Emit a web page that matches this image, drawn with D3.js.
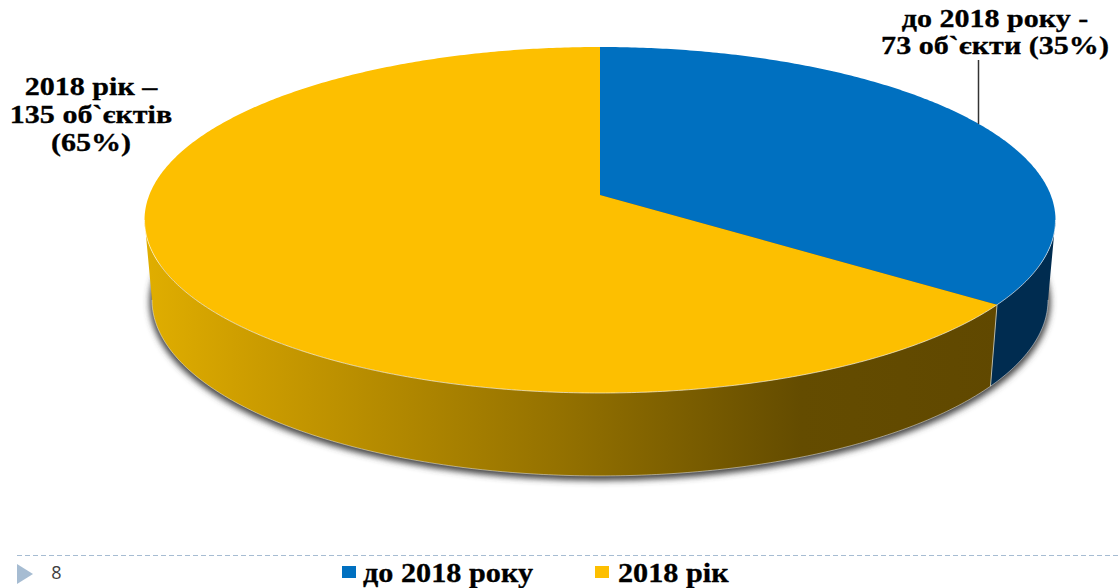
<!DOCTYPE html>
<html>
<head>
<meta charset="utf-8">
<script src="https://cdn.jsdelivr.net/npm/d3@7"></script>
<style>
  html, body { margin: 0; padding: 0; background: #fff; overflow: hidden; }
  .lbl { font-family: "Liberation Serif", serif; font-weight: bold; fill: #000; stroke: #000; stroke-width: 0.3px; }
</style>
</head>
<body>
<div id="chart"></div>
<script>
var categories = ["до 2018 року", "2018 рік"];
var objectCounts = [73, 135];
var sliceLabels = [
  ["до 2018 року -", "73 об`єкти (35%)"],
  ["2018 рік –", "135 об`єктів", "(65%)"]
];
var pageNumber = "8";

var chartWidth = 1118, chartHeight = 588;

var topColors = ["#0070c0", "#fdbf00"];
var wallBlue = "#002c50";

var svg = d3.select("#chart").append("svg")
    .attr("width", chartWidth)
    .attr("height", chartHeight);

var defs = svg.append("defs");

//wall of the yellow slice goes dark towards the lower right
var grad = defs.append("linearGradient")
    .attr("id", "wallGrad")
    .attr("gradientUnits", "userSpaceOnUse")
    .attr("x1", 145).attr("x2", 1056).attr("y1", 0).attr("y2", 0);
grad.append("stop").attr("offset", "0").attr("stop-color", "#e0ae00");
grad.append("stop").attr("offset", "0.1").attr("stop-color", "#cf9f00");
grad.append("stop").attr("offset", "0.45").attr("stop-color", "#957200");
grad.append("stop").attr("offset", "0.72").attr("stop-color", "#644c00");
grad.append("stop").attr("offset", "1").attr("stop-color", "#5f4700");

defs.append("filter").attr("id", "blur")
    .attr("x", "-5%").attr("y", "-5%").attr("width", "110%").attr("height", "110%")
  .append("feGaussianBlur").attr("stdDeviation", 3);

//unit circle of the pie -> screen, the disc is seen in perspective
var persp = -0.1445;
var topX = d3.scaleLinear().domain([-1, 1]).range([600 - 450.7, 600 + 450.7]);
var topY = d3.scaleLinear().domain([-1, 1]).range([195 - 169.4, 195 + 169.4]);
var baseX = d3.scaleLinear().domain([-1, 1]).range([600 - 443.3, 600 + 443.3]);
var baseY = d3.scaleLinear().domain([-1, 1]).range([274.5 - 172.3, 274.5 + 172.3]);

function project(angle, xs, ys) {
  var ux = Math.sin(angle), uy = -Math.cos(angle), w = 1 + persp * uy;
  return [xs(ux / w), ys(uy / w)];
}

function rim(a0, a1, xs, ys) {
  var n = Math.max(2, Math.ceil(Math.abs(a1 - a0) / 0.01)), pts = [];
  for (var i = 0; i <= n; i++) pts.push(project(a0 + (a1 - a0) * i / n, xs, ys));
  return pts;
}

var line = d3.line();

var arcs = d3.pie().sort(null)(objectCounts);

//wall runs between the widest points of the ellipse, that is the silhouette
var wallFrom = Math.PI / 2 + Math.asin(-persp), wallTo = 3 * Math.PI / 2 - Math.asin(-persp);

function wallPath(a0, a1) {
  return line(rim(a0, a1, topX, topY).concat(rim(a1, a0, baseX, baseY))) + "Z";
}

//soft shadow under the disc, from the base only so it stays off the top rim
svg.append("path")
    .attr("d", line(rim(0, 2 * Math.PI, baseX, baseY)) + "Z")
    .attr("transform", "translate(0,2)")
    .attr("fill", "#444")
    .attr("stroke", "#444")
    .attr("stroke-width", 5)
    .attr("filter", "url(#blur)");

arcs.forEach(function(d, i) {
  var a0 = Math.max(d.startAngle, wallFrom), a1 = Math.min(d.endAngle, wallTo);
  svg.append("path")
      .attr("d", wallPath(a0, a1))
      .attr("fill", i === 0 ? wallBlue : "url(#wallGrad)");
});

//light seam where the two walls meet
var seamAngle = arcs[0].endAngle;
svg.append("path")
    .attr("d", line([project(seamAngle, topX, topY), project(seamAngle, baseX, baseY)]))
    .attr("stroke", "#b9b9a8").attr("stroke-width", 1).attr("fill", "none");

//lower edge of the wall
svg.append("path")
    .attr("d", line(rim(wallFrom, wallTo, baseX, baseY)))
    .attr("stroke", "#fff").attr("stroke-opacity", 0.45).attr("stroke-width", 1).attr("fill", "none");

arcs.forEach(function(d, i) {
  var apex = [topX(0), topY(0)];
  svg.append("path")
      .attr("d", line([apex].concat(rim(d.startAngle, d.endAngle, topX, topY))) + "Z")
      .attr("fill", topColors[i]);
});

//highlight along the near rim
svg.append("path")
    .attr("d", line(rim(wallFrom, wallTo, topX, topY)))
    .attr("stroke", "#fff").attr("stroke-opacity", 0.6).attr("stroke-width", 1).attr("fill", "none");

//leader of the blue slice label
svg.append("line")
    .attr("x1", 978.5).attr("x2", 978.5).attr("y1", 60).attr("y2", 124)
    .attr("stroke", "#333").attr("stroke-width", 1.5);

//the slide stretched its text sideways, so stretch it here too
function multiline(lines, cx, firstY, step, size) {
  lines.forEach(function(t, i) {
    svg.append("text").attr("class", "lbl")
        .attr("transform", "translate(" + cx + "," + (firstY + i * step) + ") scale(1.157,1)")
        .attr("text-anchor", "middle")
        .attr("font-size", size)
        .text(t);
  });
}
multiline(sliceLabels[0], 995, 27, 27, 26);
multiline(sliceLabels[1], 91, 95, 28, 26);

//footer of the slide
svg.append("line")
    .attr("x1", 17).attr("x2", 1118).attr("y1", 555.5).attr("y2", 555.5)
    .attr("stroke", "#a6bcd2").attr("stroke-width", 1).attr("stroke-dasharray", "5,3");

svg.append("path")
    .attr("d", d3.line()([[17, 564], [33, 574], [17, 584]]) + "Z")
    .attr("fill", "#a6bcd2");

svg.append("text")
    .attr("x", 56.5).attr("y", 579)
    .attr("text-anchor", "middle")
    .attr("font-family", "Open Sans, sans-serif")
    .attr("font-size", 18)
    .attr("fill", "#404040")
    .text(pageNumber);

//legend
var legendX = d3.scaleOrdinal().domain(categories).range([342, 595]);
var legendTextX = d3.scaleOrdinal().domain(categories).range([363, 618]);
categories.forEach(function(c, i) {
  svg.append("rect")
      .attr("x", legendX(c)).attr("y", 566)
      .attr("width", 14).attr("height", 12)
      .attr("fill", topColors[i]);
  svg.append("text").attr("class", "lbl")
      .attr("transform", "translate(" + legendTextX(c) + ",582) scale(1.12,1)")
      .attr("font-size", 27)
      .text(c);
});
</script>
</body>
</html>
